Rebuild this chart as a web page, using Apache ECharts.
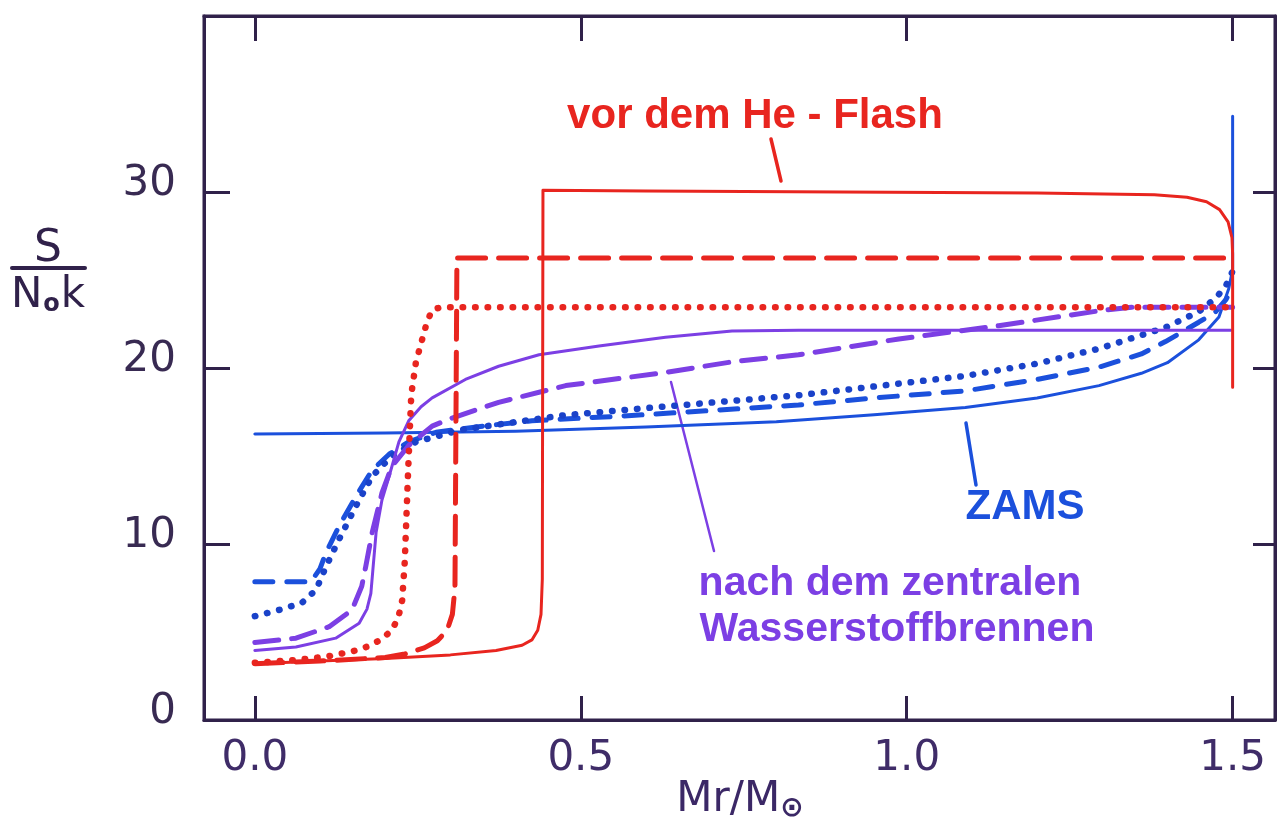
<!DOCTYPE html>
<html>
<head>
<meta charset="utf-8">
<script src="https://cdn.jsdelivr.net/npm/echarts@6/dist/echarts.min.js"></script>
<style>
  html, body { margin: 0; padding: 0; background: #ffffff; }
  #chart { width: 1278px; height: 825px; }
</style>
</head>
<body>
<div id="chart"></div>
<script>
// Specific entropy S/(N0 k) versus mass coordinate Mr/M_sun
// for three models (solid, dashed, dotted) at three evolutionary stages.

const xTicks = [0, 0.5, 1.0, 1.5];
const yTicks = [10, 20, 30];
const yLabels = [0, 10, 20, 30];

// ZAMS (blue)
const zamsSolid = [[0,16.25],[0.2,16.3],[0.4,16.4],[0.6,16.65],[0.8,16.95],[0.95,17.35],[1.09,17.75],[1.2,18.3],[1.295,19.0],[1.36,19.7],[1.4,20.3],[1.448,21.6],[1.479,22.9],[1.494,24.5],[1.5,25.6],[1.5,34.3]];
const zamsDashed = [[0,7.85],[0.086,7.85],[0.1,8.6],[0.109,9.5],[0.129,11.0],[0.155,12.7],[0.18,14.2],[0.206,15.1],[0.236,15.8],[0.278,16.35],[0.35,16.7],[0.425,17.0],[0.578,17.3],[0.834,17.9],[0.95,18.3],[1.09,18.7],[1.2,19.35],[1.295,20.05],[1.36,20.8],[1.397,21.5],[1.448,22.6],[1.474,23.2],[1.49,23.9],[1.5,24.6]];
const zamsDotted = [[0,5.9],[0.037,6.25],[0.072,6.65],[0.094,7.4],[0.109,8.7],[0.129,10.25],[0.155,12.15],[0.18,13.85],[0.21,15.0],[0.247,15.8],[0.318,16.5],[0.471,17.3],[0.578,17.65],[0.834,18.45],[0.95,18.95],[1.09,19.55],[1.2,20.25],[1.295,21.1],[1.397,22.3],[1.448,23.2],[1.475,24.0],[1.49,24.7],[1.5,25.5]];

// after central hydrogen burning (violet)
const hburnSolid = [[0,3.95],[0.063,4.15],[0.124,4.65],[0.16,5.5],[0.172,6.3],[0.178,7.2],[0.181,8.5],[0.186,10.65],[0.195,12.5],[0.206,13.85],[0.221,15.8],[0.236,17.0],[0.255,17.8],[0.272,18.3],[0.323,19.35],[0.374,20.1],[0.436,20.75],[0.528,21.25],[0.63,21.75],[0.732,22.1],[0.834,22.15],[1.497,22.15]];
const hburnDashed = [[0,4.4],[0.063,4.65],[0.114,5.3],[0.149,6.25],[0.164,7.6],[0.17,8.7],[0.18,10.65],[0.195,12.9],[0.21,14.4],[0.236,15.6],[0.272,16.7],[0.298,17.1],[0.374,18.05],[0.477,19.0],[0.63,19.75],[0.732,20.35],[0.834,20.75],[0.988,21.65],[1.141,22.4],[1.295,23.25],[1.345,23.45],[1.5,23.45]];

// before the helium flash (red)
const heflashSolid = [[0,3.2],[0.1,3.35],[0.2,3.5],[0.3,3.7],[0.37,3.95],[0.41,4.25],[0.425,4.55],[0.434,5.1],[0.439,6.0],[0.441,8.0],[0.442,30.1],[0.6,30.05],[0.9,30.0],[1.2,29.95],[1.38,29.85],[1.43,29.7],[1.46,29.45],[1.48,29.0],[1.493,28.3],[1.499,27.4],[1.5,26.5],[1.5,18.9]];
const heflashDashed = [[0,3.2],[0.1,3.35],[0.2,3.55],[0.23,3.75],[0.26,4.1],[0.28,4.5],[0.295,5.1],[0.303,6.0],[0.307,7.5],[0.31,26.25],[0.7,26.25],[1.2,26.25],[1.5,26.25]];
const heflashDotted = [[0,3.25],[0.06,3.4],[0.11,3.6],[0.15,3.9],[0.175,4.2],[0.195,4.6],[0.21,5.1],[0.22,5.8],[0.226,6.8],[0.23,9.0],[0.235,14.0],[0.24,18.5],[0.247,20.3],[0.255,21.4],[0.264,22.6],[0.272,23.3],[0.285,23.45],[1.5,23.45]];

const RED = '#e8251f';
const BLUE = '#1b50dc';
const BLUE_DOT = '#1a42c9';
const VIOLET = '#7c3fe4';
const INK = '#30214a';
const FONT = '"DejaVu Sans", "Liberation Sans", sans-serif';
const LFONT = '"Liberation Sans", Arial, sans-serif';

const dotted = [0.5, 12];

function curve(name, data, color, width, type, z) {
  return {
    name: name,
    type: 'line',
    data: data,
    showSymbol: false,
    symbol: 'none',
    smooth: false,
    z: z,
    lineStyle: { color: color, width: width, type: type, cap: 'round', join: 'round' },
    emphasis: { disabled: true },
    silent: true
  };
}

const chart = echarts.init(document.getElementById('chart'), null, { renderer: 'canvas' });

chart.setOption({
  animation: false,
  backgroundColor: '#ffffff',
  grid: {
    left: 204, right: 3, top: 16, bottom: 105,
    show: true, borderColor: INK, borderWidth: 3, backgroundColor: 'transparent'
  },
  xAxis: [
    {
      type: 'value', position: 'bottom', min: -0.078, max: 1.565,
      splitLine: { show: false },
      axisLine: { show: true, onZero: false, lineStyle: { color: INK, width: 3 } },
      axisTick: { show: true, inside: true, length: 24, customValues: xTicks, lineStyle: { color: INK, width: 3 } },
      axisLabel: {
        show: true, customValues: xTicks, margin: 18,
        formatter: v => v.toFixed(1),
        color: '#3f2c68', fontSize: 42, fontFamily: FONT
      }
    },
    {
      type: 'value', position: 'top', min: -0.078, max: 1.565,
      splitLine: { show: false },
      axisLine: { show: true, onZero: false, lineStyle: { color: INK, width: 3 } },
      axisTick: { show: true, inside: true, length: 25, customValues: xTicks, lineStyle: { color: INK, width: 3 } },
      axisLabel: { show: false }
    }
  ],
  yAxis: [
    {
      type: 'value', position: 'left', min: 0, max: 40,
      splitLine: { show: false },
      axisLine: { show: true, onZero: false, lineStyle: { color: INK, width: 3 } },
      axisTick: { show: true, inside: true, length: 26, customValues: yTicks, lineStyle: { color: INK, width: 3 } },
      axisLabel: {
        show: true, customValues: yLabels, margin: 28,
        color: '#382a52', fontSize: 42, fontFamily: FONT,
        verticalAlign: 'bottom', lineHeight: 15
      }
    },
    {
      type: 'value', position: 'right', min: 0, max: 40,
      splitLine: { show: false },
      axisLine: { show: true, onZero: false, lineStyle: { color: INK, width: 3 } },
      axisTick: { show: true, inside: true, length: 22, customValues: yTicks, lineStyle: { color: INK, width: 3 } },
      axisLabel: { show: false }
    }
  ],
  series: [
    curve('ZAMS solid', zamsSolid, BLUE, 3, 'solid', 3),
    curve('ZAMS dashed', zamsDashed, BLUE, 5, [18, 14], 3),
    curve('ZAMS dotted', zamsDotted, BLUE_DOT, 6.5, dotted, 3),
    curve('H-burn solid', hburnSolid, VIOLET, 3, 'solid', 4),
    curve('H-burn dashed', hburnDashed, VIOLET, 5, [24, 13], 4),
    curve('He-flash solid', heflashSolid, RED, 3, 'solid', 5),
    curve('He-flash dashed', heflashDashed, RED, 5, [28, 13], 5),
    curve('He-flash dotted', heflashDotted, RED, 6.5, dotted, 5)
  ],
  graphic: [
    // y-axis title as a fraction S / (N0 k)
    { type: 'text', x: 48, y: 250, style: { text: 'S', fill: INK, font: '44px ' + FONT, textAlign: 'center', textVerticalAlign: 'middle' } },
    { type: 'line', shape: { x1: 12, y1: 268, x2: 85, y2: 268 }, style: { stroke: INK, lineWidth: 4, lineCap: 'round' } },
    {
      type: 'text', x: 48, y: 296,
      style: {
        text: '{a|N}{b|o}{a|k}', textAlign: 'center', textVerticalAlign: 'middle',
        rich: {
          a: { fontSize: 42, fontFamily: FONT, fill: INK },
          b: { fontSize: 24, fontFamily: FONT, fill: INK, fontWeight: 'bold', verticalAlign: 'bottom', padding: [14, 1, 0, 1] }
        }
      }
    },
    // x-axis title Mr / M_sun
    {
      type: 'text', x: 740, y: 800,
      style: {
        text: '{a|Mr/M}{b|\u2299}', textAlign: 'center', textVerticalAlign: 'middle',
        rich: {
          a: { fontSize: 42, fontFamily: FONT, fill: '#3b2866' },
          b: { fontSize: 28, fontFamily: FONT, fill: '#3b2866', padding: [18, 0, 0, 0], fontWeight: 'bold' }
        }
      }
    },
    // stage annotations with leader lines
    { type: 'text', x: 755, y: 116, style: { text: 'vor dem He - Flash', fill: RED, font: 'bold 42px ' + LFONT, textAlign: 'center', textVerticalAlign: 'middle' } },
    { type: 'line', shape: { x1: 771, y1: 139, x2: 781, y2: 181 }, style: { stroke: RED, lineWidth: 3.5, lineCap: 'round' } },
    { type: 'text', x: 1025, y: 507, style: { text: 'ZAMS', fill: BLUE, font: 'bold 42px ' + LFONT, textAlign: 'center', textVerticalAlign: 'middle' } },
    { type: 'line', shape: { x1: 966, y1: 423, x2: 976, y2: 485 }, style: { stroke: BLUE, lineWidth: 3.5, lineCap: 'round' } },
    { type: 'text', x: 890, y: 584, style: { text: 'nach dem zentralen', fill: VIOLET, font: 'bold 41px ' + LFONT, textAlign: 'center', textVerticalAlign: 'middle' } },
    { type: 'text', x: 897, y: 630, style: { text: 'Wasserstoffbrennen', fill: VIOLET, font: 'bold 41px ' + LFONT, textAlign: 'center', textVerticalAlign: 'middle' } },
    { type: 'line', shape: { x1: 671, y1: 382, x2: 714, y2: 551 }, style: { stroke: VIOLET, lineWidth: 2.5, lineCap: 'round' } }
  ]
});
</script>
</body>
</html>
